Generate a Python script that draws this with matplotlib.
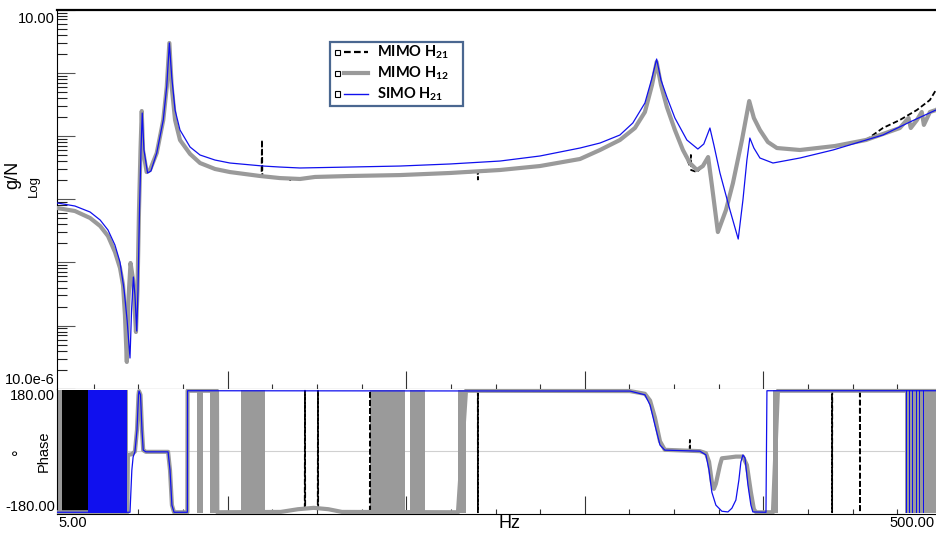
import numpy as np
import matplotlib
matplotlib.use("Agg")
import matplotlib.pyplot as plt
from matplotlib.lines import Line2D
from matplotlib.patches import Rectangle
from matplotlib.ticker import FixedLocator, MultipleLocator, NullFormatter, LogLocator

plt.rcParams['font.family'] = ['Liberation Sans', 'DejaVu Sans']
plt.rcParams['mathtext.fontset'] = 'custom'
plt.rcParams['mathtext.bf'] = 'Lato:bold'
plt.rcParams['mathtext.rm'] = 'Lato'

# ---------------- magnitude data (Hz, g/N) ----------------
gray_f = [5.0, 5.48, 5.93, 6.25, 6.51, 6.75, 6.93, 7.04, 7.11, 7.18, 7.24, 7.32, 7.42, 7.53, 7.59,
          7.65, 7.71, 7.76, 7.81, 7.96, 8.10, 8.39, 8.68, 8.84, 8.96, 9.07, 9.23, 9.47, 9.98,
          10.51, 11.36, 12.28, 14.36, 15.93, 17.69, 19.12, 22.94, 29.76, 38.61, 50.1, 61.67, 75.97,
          84.3, 93.5, 101.1, 106.5, 110.5, 113.2, 115.8, 119.4, 124.5, 129.8, 134.6, 139.6, 144.0,
          148.0, 150.9, 155.7, 162.4, 168.4, 176.5, 183.3, 187.8, 193.8, 202.0, 211.7, 238.7, 286.4,
          336.5, 401.5, 420.0, 425.0, 438.7, 450.0, 455.0, 469.5, 484.4, 500.0]
gray_v = [0.00725, 0.0065, 0.00504, 0.00376, 0.00261, 0.00146, 0.000814, 0.000438, 0.000147, 2.65e-5,
          0.000254, 0.000977, 0.000526, 7.9e-5, 0.000365, 0.00674, 0.0601, 0.2489, 0.0601, 0.0269,
          0.029, 0.0538, 0.1794, 0.6035, 2.97, 0.6035, 0.1794, 0.0865, 0.052, 0.0374, 0.0301,
          0.0269, 0.0233, 0.0216, 0.0209, 0.0225, 0.0233, 0.0241, 0.026, 0.029, 0.0335, 0.0433,
          0.0601, 0.0865, 0.134, 0.24, 0.642, 1.485, 0.642, 0.288, 0.1246, 0.0601, 0.0374, 0.029,
          0.0335, 0.0465, 0.0168, 0.00302, 0.00674, 0.018, 0.0865, 0.3584, 0.1929, 0.1246, 0.0804,
          0.0646, 0.0601, 0.0695, 0.0865, 0.134, 0.193, 0.134, 0.179, 0.24, 0.15, 0.24, 0.258, 0.30]

blue_f = [5.0, 5.48, 5.93, 6.25, 6.51, 6.75, 6.93, 7.08, 7.19, 7.30, 7.36, 7.43, 7.49, 7.56, 7.61,
          7.67, 7.73, 7.78, 7.85, 8.00, 8.14, 8.39, 8.68, 8.84, 8.96, 9.07, 9.23, 9.47, 9.98,
          10.51, 11.36, 12.28, 14.59, 15.93, 17.69, 22.94, 29.76, 38.61, 50.1, 61.67, 75.97, 84.3,
          93.5, 100.0, 106.5, 110.5, 113.2, 115.8, 119.4, 124.5, 132.5, 140.3, 144.7, 149.4, 152.5,
          157.4, 165.8, 173.1, 177.4, 181.1, 183.9, 187.8, 193.8, 207.4, 238.7, 283.4, 367.6, 422.9,
          484.4, 500.0]
blue_v = [0.00871, 0.0078, 0.00627, 0.00468, 0.00325, 0.00188, 0.00101, 0.000365, 0.000122, 3.06e-5,
          0.000176, 0.000586, 0.000304, 8.19e-5, 0.000365, 0.00674, 0.0601, 0.2314, 0.0601, 0.026,
          0.0279, 0.0538, 0.1794, 0.62, 2.97, 0.869, 0.258, 0.1246, 0.067, 0.0501, 0.0417,
          0.0374, 0.0335, 0.0323, 0.0312, 0.0323, 0.0335, 0.0361, 0.0402, 0.0483, 0.0646, 0.0775,
          0.1038, 0.1608, 0.3332, 0.829, 1.657, 0.77, 0.415, 0.1929, 0.0865, 0.0623, 0.0748, 0.134,
          0.0721, 0.026, 0.00674, 0.00234, 0.00971, 0.0417, 0.093, 0.0646, 0.0449, 0.0374, 0.0449,
          0.0601, 0.1038, 0.1667, 0.2582, 0.28]

black_f = [5.0, 5.48, 5.93, 6.25, 6.51, 6.75, 6.93, 7.04, 7.11, 7.18, 7.24, 7.32, 7.42, 7.53, 7.59,
           7.65, 7.71, 7.76, 7.81, 7.96, 8.10, 8.39, 8.68, 8.84, 8.96, 9.07, 9.23, 9.47, 9.98,
           10.51, 11.36, 12.28, 14.36, 14.48, 14.51, 14.54, 15.93, 16.75, 16.79, 16.83, 17.69, 19.12,
           22.94, 29.76, 38.61, 44.6, 44.65, 44.7, 50.1, 61.67, 75.97, 84.3, 93.5, 101.1, 106.5, 110.5,
           113.2, 115.8, 119.4, 124.5, 129.8, 134.6, 135.2, 135.3, 135.4, 139.6, 144.0, 148.0, 150.9,
           155.7, 162.4, 168.4, 176.5, 183.3, 187.8, 193.8, 202.0, 211.7, 238.7, 286.4, 336.5, 367.6,
           401.5, 438.7, 469.5, 484.4, 500.0]
black_v = [0.00725, 0.0065, 0.00504, 0.00376, 0.00261, 0.00146, 0.000814, 0.000438, 0.000147, 2.9e-5,
           0.00026, 0.00095, 0.00052, 8.2e-5, 0.00037, 0.0068, 0.06, 0.245, 0.06, 0.0269, 0.029,
           0.0538, 0.1794, 0.6035, 2.95, 0.6035, 0.1794, 0.0865, 0.052, 0.0374, 0.0301, 0.0269,
           0.0233, 0.0233, 0.0865, 0.0233, 0.0216, 0.021, 0.0194, 0.021, 0.0209, 0.0225, 0.0233,
           0.0241, 0.026, 0.027, 0.0205, 0.027, 0.029, 0.0335, 0.0433, 0.0601, 0.0865, 0.134, 0.24,
           0.642, 1.485, 0.642, 0.288, 0.1246, 0.0601, 0.0335, 0.0335, 0.0501, 0.029, 0.0269, 0.0335,
           0.0465, 0.0168, 0.00302, 0.00674, 0.018, 0.0865, 0.358, 0.193, 0.1246, 0.0804, 0.0646,
           0.0601, 0.0695, 0.0865, 0.134, 0.1794, 0.2582, 0.3717, 0.535, 0.60]

# ---------------- phase data (Hz, degrees) ----------------
blue_pf = [5.0, 7.30, 7.37, 7.42, 7.49, 7.57, 7.63, 7.65, 7.71, 7.77, 7.82, 7.93, 8.90, 8.99, 9.08,
           9.18, 9.84, 9.85, 98.5, 106.5, 109.4, 112.2, 115.2, 118.1, 141.8, 146.3, 148.7, 150.9,
           154.1, 159.0, 164.1, 167.5, 171.0, 173.7, 175.5, 177.4, 179.3, 182.1, 184.9, 186.8, 200.0,
           201.0, 500.0]
blue_pd = [-179, -179, -55, -16, -1, 63, 167, 178, 167, 63, 4, -1, -1, -55, -158,
           -179, -179, 179, 178, 167, 137, 78, 19, 4, 1, -10, -55, -120,
           -158, -176, -178, -167, -143, -84, -31, -10, -19, -99, -158, -178, -179,
           179, 179]

gray_pf = [5.0, 7.20, 7.22, 7.37, 7.49, 7.57, 7.63, 7.65, 7.71, 7.77, 7.82, 7.93, 8.90, 8.99, 9.08,
           9.18, 9.84, 9.85, 11.48, 11.5, 16.0, 17.5, 19.0, 20.5, 22.0, 40.25, 41.96, 98.5, 106.5,
           109.4, 112.2, 115.2, 118.1, 141.8, 146.3, 148.7, 150.9, 152.5, 154.1, 157.4, 159.0, 164.1,
           171.0, 177.4, 181.1, 184.9, 187.8, 190.0, 207.4, 212.8, 500.0]
gray_pd = [-179, -179, -10, -8, 0, 63, 167, 178, 167, 63, 4, -1, -1, -55, -158,
           -179, -179, 179, 179, -179, -178, -170, -166, -170, -178, -179, 179, 178, 170,
           150, 100, 30, 5, 1, -5, -30, -90, -110, -95, -40, -20, -18,
           -15, -15, -40, -120, -170, -179, -179, 179, 179]

black_pf = [5.0, 7.20, 7.22, 7.37, 7.49, 7.57, 7.63, 7.65, 7.71, 7.77, 7.82, 7.93, 8.90, 8.99, 9.08,
            9.18, 9.84, 9.85, 11.48, 11.5, 16.0, 17.5, 18.13, 18.15, 18.17, 19.0, 19.40, 19.42,
            19.44, 20.5, 22.0, 25.44, 25.46, 25.48, 40.25, 41.96, 44.63, 44.65, 44.67, 98.5, 106.5,
            109.4, 112.2, 115.2, 118.1, 134.4, 134.6, 134.8, 141.8, 146.3, 148.7, 150.9, 152.5, 154.1,
            157.4, 159.0, 164.1, 171.0, 177.4, 181.1, 184.9, 187.8, 190.0, 207.4, 212.8, 282.0,
            282.2, 282.4, 326.0, 326.2, 326.4, 500.0]
black_pd = [-179, -179, -10, -8, 0, 63, 167, 178, 167, 63, 4, -1, -1, -55, -158,
            -179, -179, 179, 179, -179, -178, -170, -168, 179, -168, -166, -167, 179,
            -167, -170, -178, -179, 179, -179, -179, 179, 179, -179, 179, 178, 170,
            150, 100, 30, 5, 1, 34, 1, 1, -5, -30, -90, -110, -95,
            -40, -20, -18, -15, -15, -40, -120, -170, -179, -179, 179, 179,
            -179, 179, 179, -179, 179, 179]

# dense wrap bands (Hz start, Hz end)
gray_band_lo = [5.0, 10.35, 11.07, 13.01, 25.52, 31.35, 40.25, 207.4, 412.1]
gray_band_hi = [7.22, 10.68, 11.48, 14.74, 30.54, 33.90, 41.96, 212.8, 500.0]
black_band_lo = [5.12]
black_band_hi = [5.99]
blue_band_lo = [5.87, 414.0, 421.0, 428.0, 436.0, 444.0, 452.0]
blue_band_hi = [7.19, 416.0, 423.0, 430.0, 438.0, 446.0, 455.0]

# ---------------- figure ----------------
W, H = 936, 536
fig = plt.figure(figsize=(W / 100, H / 100), dpi=100)

def fx(x):
    return x / W

def fy(y):
    return 1 - y / H

left_px, right_px = 57.3, 942.0
ax1 = fig.add_axes([fx(left_px), fy(388.7), (right_px - left_px) / W, (388.7 - 9.7) / H])
ax2 = fig.add_axes([fx(left_px), fy(514.3), (right_px - left_px) / W, (514.3 - 388.7) / H])

GRAY = '#9a9a9a'
BLUE = '#1010ee'

ax1.plot(black_f, black_v, color='black', lw=1.3, ls=(0, (3, 1.5)), zorder=2)
ax1.plot(gray_f, gray_v, color=GRAY, lw=3.0, zorder=3, solid_joinstyle='round')
ax1.plot(blue_f, blue_v, color=BLUE, lw=0.9, zorder=4)
ax1.set_xscale('log')
ax1.set_yscale('log')
ax1.set_xlim(5, 500)
ax1.set_ylim(1e-5, 10)

for lo, hi in zip(gray_band_lo, gray_band_hi):
    ax2.fill_between([lo, hi], -180, 180, color=GRAY, lw=0, zorder=2)
for lo, hi in zip(black_band_lo, black_band_hi):
    ax2.fill_between([lo, hi], -180, 180, color='black', lw=0, zorder=3)
for lo, hi in zip(blue_band_lo, blue_band_hi):
    ax2.fill_between([lo, hi], -180, 180, color=BLUE, lw=0, zorder=4)
ax2.plot(black_pf, black_pd, color='black', lw=1.3, ls=(0, (3, 1.5)), zorder=2)
ax2.plot(gray_pf, gray_pd, color=GRAY, lw=3.0, zorder=3)
ax2.plot(blue_pf, blue_pd, color=BLUE, lw=0.9, zorder=5)
ax2.axhline(0, color='#d0d0d0', lw=0.8, zorder=1)
ax2.set_xscale('log')
ax2.set_xlim(5, 500)
ax2.set_ylim(-185, 185)

# ticks
dec = 44.65 / 442.4
tick_pos = [500 * 10 ** (-k * dec) for k in range(20)]
major_pos = [p for k, p in enumerate(tick_pos) if k % 4 == 0]
minor_pos = [p for k, p in enumerate(tick_pos) if k % 4 != 0]
for ax in (ax1, ax2):
    ax.xaxis.set_major_locator(FixedLocator(major_pos))
    ax.xaxis.set_minor_locator(FixedLocator(minor_pos))
    ax.xaxis.set_major_formatter(NullFormatter())
    ax.xaxis.set_minor_formatter(NullFormatter())
    ax.tick_params(axis='x', which='major', direction='in', length=13, width=0.8, color='#333333')
    ax.tick_params(axis='x', which='minor', direction='in', length=3.5, width=0.8, color='#333333')
    ax.spines['right'].set_visible(False)

ax1.yaxis.set_major_locator(LogLocator(base=10, numticks=20))
ax1.yaxis.set_minor_locator(LogLocator(base=10, subs=np.arange(2, 10), numticks=20))
ax1.yaxis.set_major_formatter(NullFormatter())
ax1.yaxis.set_minor_formatter(NullFormatter())
ax1.tick_params(axis='y', which='major', direction='in', length=13, width=0.8, color='#555555')
ax1.tick_params(axis='y', which='minor', direction='in', length=7, width=0.8, color='#222222')
ax1.spines['top'].set_linewidth(1.6)
ax1.spines['bottom'].set_color('#444444')

ax2.yaxis.set_major_locator(FixedLocator([]))
ax2.yaxis.set_minor_locator(MultipleLocator(20))
ax2.yaxis.set_minor_formatter(NullFormatter())
ax2.tick_params(axis='y', which='minor', direction='in', length=3, width=0.7, color='#333333')
ax2.spines['top'].set_visible(False)

# labels as text
fs = 10.5
fig.text(fx(55), fy(19), '10.00', ha='right', va='center', fontsize=fs)
fig.text(fx(55), fy(380), '10.0e-6', ha='right', va='center', fontsize=fs)
fig.text(fx(55), fy(396), '180.00', ha='right', va='center', fontsize=fs)
fig.text(fx(55), fy(507), '-180.00', ha='right', va='center', fontsize=fs)
fig.text(fx(58), fy(523), '5.00', ha='left', va='center', fontsize=fs)
fig.text(fx(935), fy(523), '500.00', ha='right', va='center', fontsize=fs)
fig.text(fx(510), fy(524), 'Hz', ha='center', va='center', fontsize=13)
fig.text(fx(13), fy(175), 'g/N', ha='center', va='center', rotation=90, fontsize=13)
fig.text(fx(34), fy(186), 'Log', ha='center', va='center', rotation=90, fontsize=9.5)
fig.text(fx(44), fy(451), 'Phase', ha='center', va='center', rotation=90, fontsize=10.5)
fig.text(fx(20), fy(452), '°', ha='center', va='center', rotation=90, fontsize=12)

# legend drawn by hand
fig.add_artist(Rectangle((fx(330), fy(106)), (463 - 330) / W, (106 - 42) / H,
                         transform=fig.transFigure, fill=False, ec='#4a6790', lw=1.6))
leg_rows = [52, 73, 94]
leg_labels = [r'MIMO H$_{\mathbf{21}}$', r'MIMO H$_{\mathbf{12}}$', r'SIMO H$_{\mathbf{21}}$']
leg_styles = [dict(color='black', lw=1.6, ls=(0, (3, 1.5))), dict(color=GRAY, lw=3.0), dict(color=BLUE, lw=1.0)]
for yy, lab, st in zip(leg_rows, leg_labels, leg_styles):
    fig.add_artist(Rectangle((fx(335), fy(yy + 2.5)), 5 / W, 5 / H, transform=fig.transFigure,
                             fill=False, ec='black', lw=0.8))
    fig.add_artist(Line2D([fx(344), fx(368)], [fy(yy), fy(yy)], transform=fig.transFigure, **st))
    fig.text(fx(377), fy(yy), lab, ha='left', va='center', fontsize=10.5,
             fontfamily='Lato', fontweight='bold')

fig.savefig('out.png', dpi=100)
